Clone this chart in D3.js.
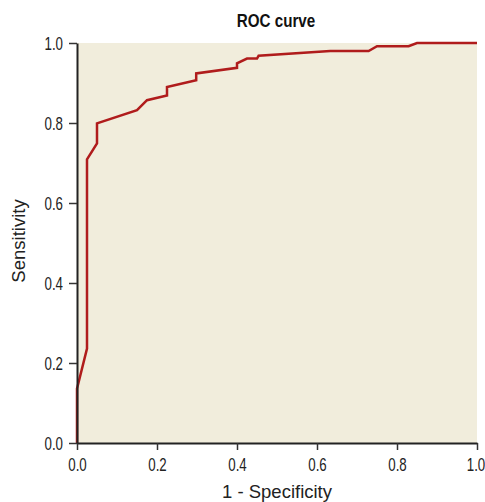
<!DOCTYPE html>
<html><head><meta charset="utf-8">
<script src="https://cdn.jsdelivr.net/npm/d3@7"></script>
<style>body{margin:0;background:#fff;} svg{display:block;}</style>
</head><body>
<svg id="c" width="485" height="502"></svg>
<script>
const fpr = [0, 0, 0.025, 0.025, 0.05, 0.05, 0.15, 0.175, 0.225, 0.225, 0.298, 0.298, 0.40, 0.40, 0.425, 0.45, 0.454, 0.633, 0.729, 0.75, 0.829, 0.85, 1.0];
const tpr = [0, 0.136, 0.236, 0.709, 0.749, 0.799, 0.832, 0.857, 0.869, 0.89, 0.907, 0.924, 0.938, 0.949, 0.961, 0.961, 0.968, 0.98, 0.98, 0.992, 0.992, 1.0, 1.0];
const xTicks = [0, 0.2, 0.4, 0.6, 0.8, 1.0];
const yTicks = [0, 0.2, 0.4, 0.6, 0.8, 1.0];

const svg = d3.select("#c");
const L = 77, R = 477, T = 43, B = 443;
const x = d3.scaleLinear().domain([0,1]).range([L,R]);
const y = d3.scaleLinear().domain([0,1]).range([B,T]);
const sans = "'Liberation Sans',Arial,sans-serif";
const sx = 0.76;

svg.append("rect").attr("x",L).attr("y",T).attr("width",R-L).attr("height",B-T).attr("fill","#f1eddc");

const line = d3.line().x((d,i)=>x(fpr[i])).y((d,i)=>y(tpr[i]));
svg.append("path").datum(fpr).attr("d",line).attr("fill","none")
  .attr("stroke","#b01c1c").attr("stroke-width",2.5).attr("stroke-linejoin","miter");

const xa = svg.append("g").attr("transform",`translate(0,${B})`)
  .call(d3.axisBottom(x).tickValues(xTicks).tickFormat(d3.format(".1f")).tickSize(7).tickSizeOuter(0));
const ya = svg.append("g").attr("transform",`translate(${L},0)`)
  .call(d3.axisLeft(y).tickValues(yTicks).tickFormat(d3.format(".1f")).tickSize(8).tickSizeOuter(0));
[xa,ya].forEach(a=>{
  a.select(".domain").attr("stroke","#222").attr("stroke-width",2);
  a.selectAll(".tick line").attr("stroke","#333").attr("stroke-width",1.5);
  a.selectAll("text").attr("fill","#222").attr("transform",`scale(${sx},1)`)
    .style("font-family",sans).style("font-size","17.5px");
});
xa.selectAll("text").attr("x",d => d === 1 ? -1.5/sx : 0).attr("y",28).attr("dy",0);
ya.selectAll("text").attr("x",-14/sx).attr("dy","0.36em");

svg.append("text").attr("transform","translate(276,27) scale(0.8,1)").attr("text-anchor","middle")
  .style("font-family",sans).style("font-weight","bold").style("font-size","19px").attr("fill","#111").text("ROC curve");
svg.append("text").attr("x",277).attr("y",498).attr("text-anchor","middle")
  .style("font-family",sans).style("font-size","18.5px").attr("fill","#222").text("1 - Specificity");
svg.append("text").attr("transform","translate(25,241) rotate(-90)").attr("text-anchor","middle")
  .style("font-family",sans).style("font-size","18.5px").attr("fill","#222").text("Sensitivity");
</script>
</body></html>
